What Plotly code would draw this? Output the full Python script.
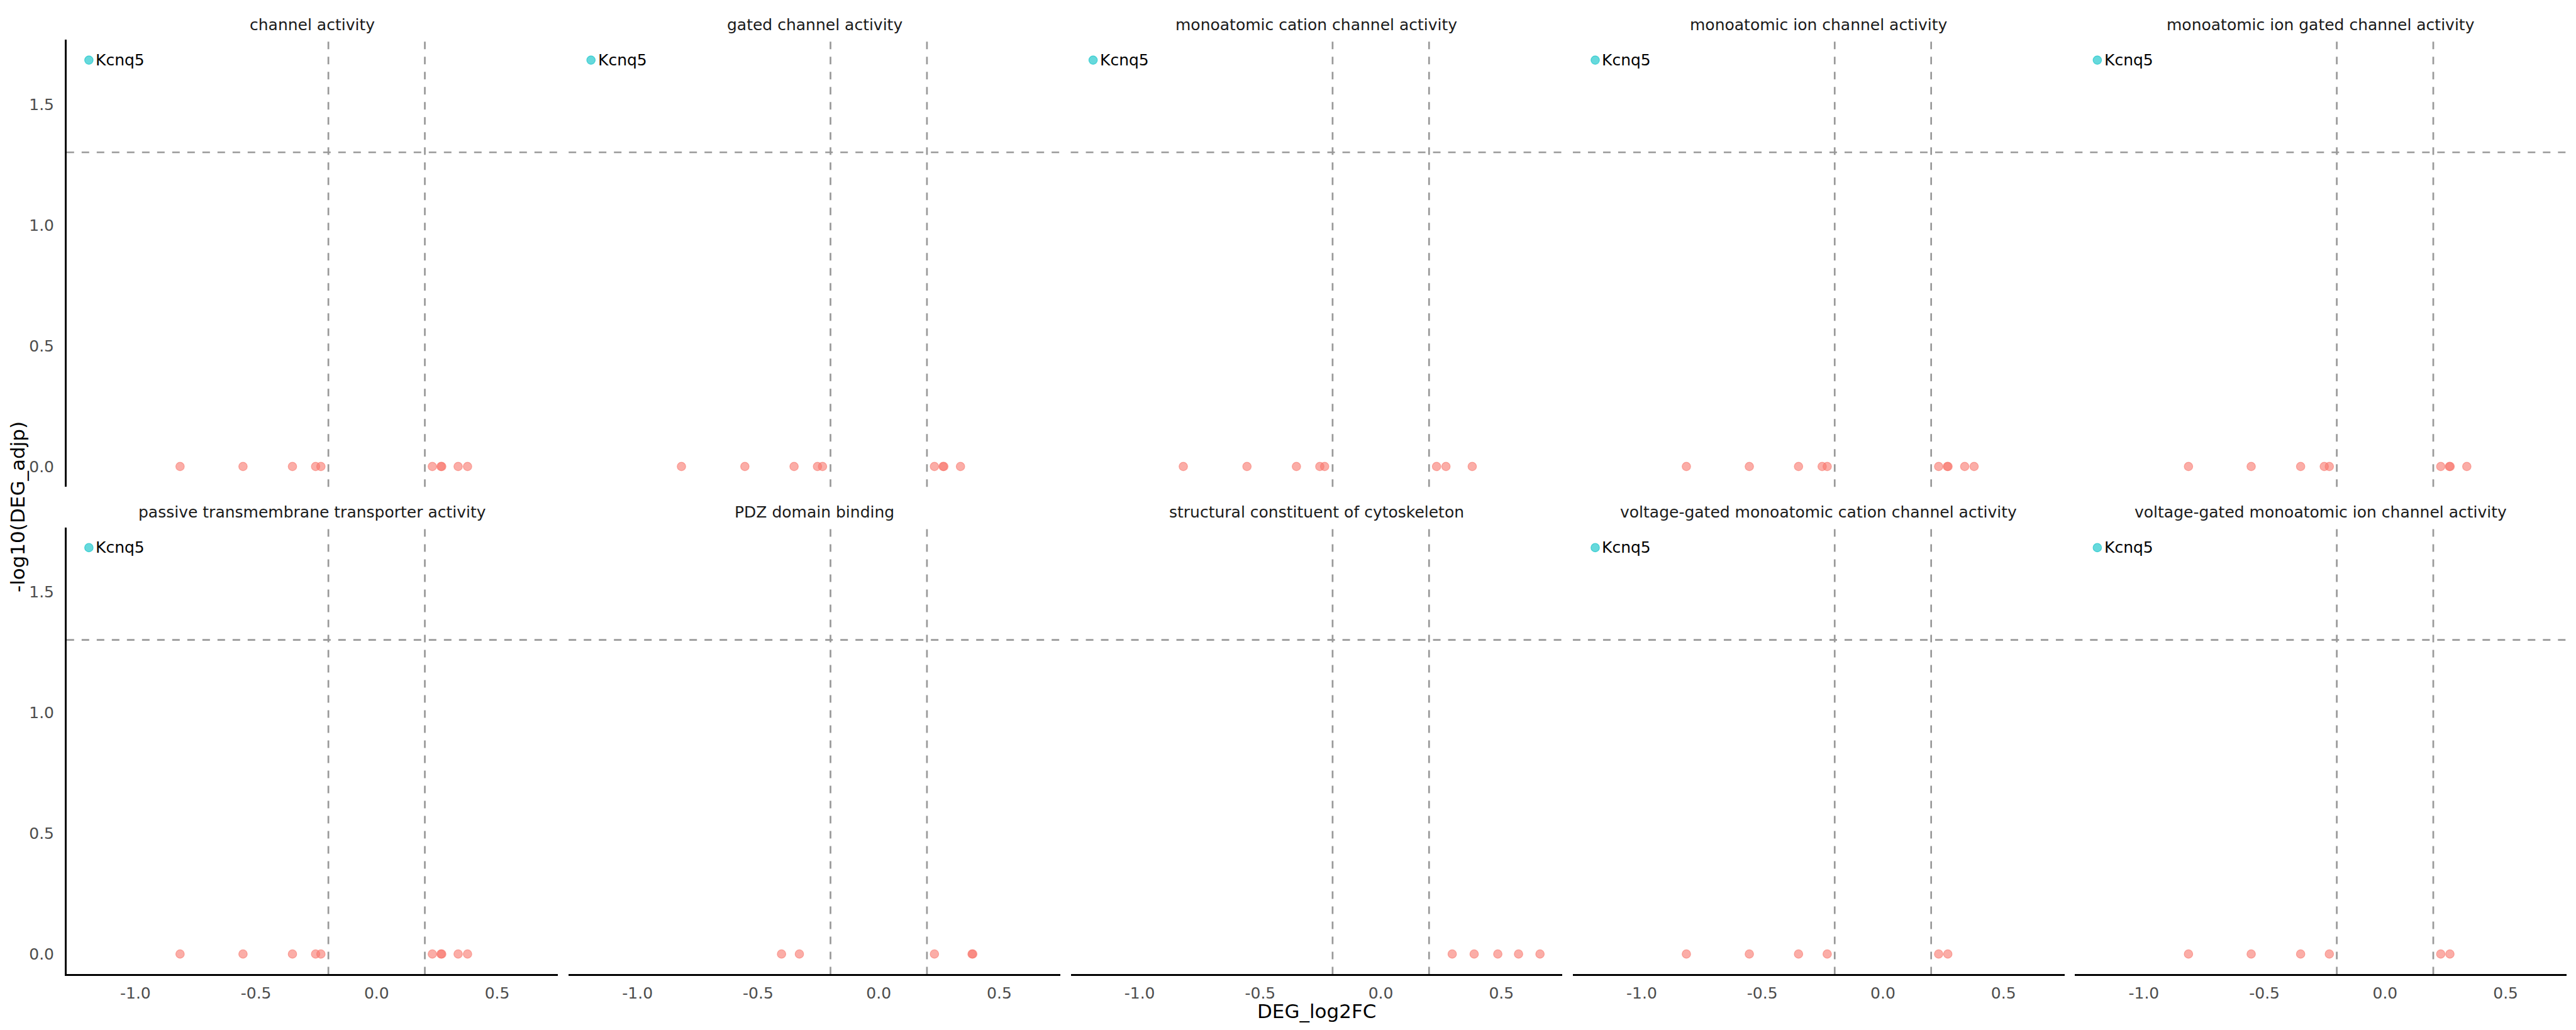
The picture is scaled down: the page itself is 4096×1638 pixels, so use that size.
import math
import plotly.graph_objects as go

# ---------------- data ----------------
terms = [
    "channel activity",
    "gated channel activity",
    "monoatomic cation channel activity",
    "monoatomic ion channel activity",
    "monoatomic ion gated channel activity",
    "passive transmembrane transporter activity",
    "PDZ domain binding",
    "structural constituent of cytoskeleton",
    "voltage-gated monoatomic cation channel activity",
    "voltage-gated monoatomic ion channel activity",
]

# non-significant genes (DEG_log2FC, -log10(DEG_adjp)) per GO term
fc_channel = [-0.815, -0.554, -0.349, -0.253, -0.231, 0.231, 0.267, 0.270, 0.338, 0.377]
y_channel = [0.0, 0.0, 0.0, 0.0, 0.0, 0.0, 0.0, 0.0, 0.0, 0.0]
fc_gated = [-0.818, -0.555, -0.351, -0.254, -0.233, 0.231, 0.267, 0.270, 0.339]
y_gated = [0.0, 0.0, 0.0, 0.0, 0.0, 0.0, 0.0, 0.0, 0.0]
fc_cation = [-0.819, -0.555, -0.350, -0.253, -0.233, 0.231, 0.270, 0.379]
y_cation = [0.0, 0.0, 0.0, 0.0, 0.0, 0.0, 0.0, 0.0]
fc_ion = [-0.815, -0.554, -0.350, -0.252, -0.231, 0.231, 0.267, 0.270, 0.339, 0.378]
y_ion = [0.0, 0.0, 0.0, 0.0, 0.0, 0.0, 0.0, 0.0, 0.0, 0.0]
fc_ion_gated = [-0.815, -0.555, -0.350, -0.252, -0.231, 0.231, 0.267, 0.270, 0.339]
y_ion_gated = [0.0, 0.0, 0.0, 0.0, 0.0, 0.0, 0.0, 0.0, 0.0]
fc_passive = [-0.815, -0.554, -0.349, -0.253, -0.231, 0.231, 0.267, 0.270, 0.338, 0.377]
y_passive = [0.0, 0.0, 0.0, 0.0, 0.0, 0.0, 0.0, 0.0, 0.0, 0.0]
fc_pdz = [-0.403, -0.329, 0.231, 0.387, 0.390]
y_pdz = [0.0, 0.0, 0.0, 0.0, 0.0]
fc_cyto = [0.296, 0.387, 0.485, 0.571, 0.660]
y_cyto = [0.0, 0.0, 0.0, 0.0, 0.0]
fc_vg_cation = [-0.815, -0.554, -0.350, -0.231, 0.231, 0.269]
y_vg_cation = [0.0, 0.0, 0.0, 0.0, 0.0, 0.0]
fc_vg_ion = [-0.815, -0.555, -0.350, -0.231, 0.231, 0.269]
y_vg_ion = [0.0, 0.0, 0.0, 0.0, 0.0, 0.0]

ns_fc = [fc_channel, fc_gated, fc_cation, fc_ion, fc_ion_gated,
         fc_passive, fc_pdz, fc_cyto, fc_vg_cation, fc_vg_ion]
ns_y = [y_channel, y_gated, y_cation, y_ion, y_ion_gated,
        y_passive, y_pdz, y_cyto, y_vg_cation, y_vg_ion]

# significant gene
sig_gene = "Kcnq5"
sig_fc = -1.193
sig_y = 1.683
sig_in_term = [True, True, True, True, True, True, False, False, True, True]

# thresholds
logfc_cut = 0.2
p_cut = 0.05
p_line = -math.log10(p_cut)

x_ticks = [-1.0, -0.5, 0.0, 0.5]
x_ticklabels = ["-1.0", "-0.5", "0.0", "0.5"]
y_ticks = [0.0, 0.5, 1.0, 1.5]
y_ticklabels = ["0.0", "0.5", "1.0", "1.5"]

# ---------------- scales (ggplot-like 5% expansion) ----------------
all_x = [v for L in ns_fc for v in L] + [sig_fc]
all_y = [v for L in ns_y for v in L] + [sig_y]
xr = [min(all_x), max(all_x)]
yr = [min(all_y), max(all_y)]
xpad = (xr[1] - xr[0]) * 0.05
ypad = (yr[1] - yr[0]) * 0.05
x_range = [xr[0] - xpad, xr[1] + xpad]
y_range = [yr[0] - ypad, yr[1] + ypad]

# ---------------- layout geometry (reference px, 6000x2400) ----------------
RW, RH = 6000.0, 2400.0
col_px = [(155, 1300), (1324.5, 2469.5), (2494, 3639), (3663.5, 4808.5), (4833, 5978)]
row_px = [(92.7, 1134.3), (1228.7, 2270.3)]
strip_y_px = [58, 1194]

FONT = "DejaVu Sans"
RED = "rgba(248,118,109,0.6)"
CYAN = "rgba(0,191,196,0.6)"
DASH = "#999999"

fig = go.Figure()
layout = dict(
    width=4096, height=1638,
    margin=dict(l=0, r=0, t=0, b=0),
    paper_bgcolor="white", plot_bgcolor="white",
    showlegend=False,
    font=dict(family=FONT, color="#000000"),
)
annotations = []
shapes = []

for i, term in enumerate(terms):
    r, c = divmod(i, 5)
    k = i + 1
    xa = "xaxis" if k == 1 else f"xaxis{k}"
    ya = "yaxis" if k == 1 else f"yaxis{k}"
    xref = "x" if k == 1 else f"x{k}"
    yref = "y" if k == 1 else f"y{k}"
    x0, x1 = col_px[c]
    y0, y1 = row_px[r]
    layout[xa] = dict(
        domain=[x0 / RW, x1 / RW], range=x_range, anchor=yref,
        showgrid=False, zeroline=False, ticks="",
        tickvals=x_ticks, ticktext=x_ticklabels,
        showticklabels=(r == 1), showline=(r == 1),
        linecolor="black", linewidth=3,
        tickfont=dict(family=FONT, size=25, color="#4D4D4D"),
        ticklabelstandoff=6,
    )
    layout[ya] = dict(
        domain=[1 - y1 / RH, 1 - y0 / RH], range=y_range, anchor=xref,
        showgrid=False, zeroline=False, ticks="",
        tickvals=y_ticks, ticktext=y_ticklabels,
        showticklabels=(c == 0), showline=(c == 0),
        linecolor="black", linewidth=2.6,
        tickfont=dict(family=FONT, size=25, color="#4D4D4D"),
        ticklabelstandoff=12,
    )
    # threshold lines
    for xv in (-logfc_cut, logfc_cut):
        shapes.append(dict(type="line", xref=xref, yref=f"{yref} domain",
                           x0=xv, x1=xv, y0=0, y1=1, layer="below",
                           line=dict(color=DASH, width=2.7, dash="12px,12px")))
    shapes.append(dict(type="line", xref=f"{xref} domain", yref=yref,
                       x0=0, x1=1, y0=p_line, y1=p_line, layer="below",
                       line=dict(color=DASH, width=2.7, dash="12px,12px")))
    # non-significant points
    fig.add_trace(go.Scatter(
        x=ns_fc[i], y=ns_y[i], mode="markers", xaxis=xref, yaxis=yref,
        marker=dict(size=13.5, color=RED, line=dict(color=RED, width=1.2)),
        hoverinfo="x+y",
    ))
    if sig_in_term[i]:
        fig.add_trace(go.Scatter(
            x=[sig_fc], y=[sig_y], mode="markers", xaxis=xref, yaxis=yref,
            marker=dict(size=13.5, color=CYAN, line=dict(color=CYAN, width=1.2)),
            hoverinfo="x+y",
        ))
        annotations.append(dict(
            x=sig_fc, y=sig_y, xref=xref, yref=yref, text=sig_gene,
            showarrow=False, xanchor="left", yanchor="middle", xshift=9,
            font=dict(family=FONT, size=25, color="black"),
        ))
    # strip title
    annotations.append(dict(
        x=(x0 + x1) / 2 / RW, y=1 - strip_y_px[r] / RH, xref="paper", yref="paper",
        text=term, showarrow=False, xanchor="center", yanchor="middle",
        font=dict(family=FONT, size=25, color="#1A1A1A"),
    ))

# axis titles
annotations.append(dict(
    x=(col_px[0][0] + col_px[-1][1]) / 2 / RW, y=1 - 2356 / RH,
    xref="paper", yref="paper", text="DEG_log2FC", showarrow=False,
    xanchor="center", yanchor="middle",
    font=dict(family=FONT, size=31, color="black"),
))
annotations.append(dict(
    x=42 / RW, y=1 - (row_px[0][0] + row_px[1][1]) / 2 / RH,
    xref="paper", yref="paper", text="-log10(DEG_adjp)", showarrow=False,
    textangle=-90, xanchor="center", yanchor="middle",
    font=dict(family=FONT, size=31, color="black"),
))

layout["annotations"] = annotations
layout["shapes"] = shapes
fig.update_layout(**layout)
fig.write_html("out.html")
